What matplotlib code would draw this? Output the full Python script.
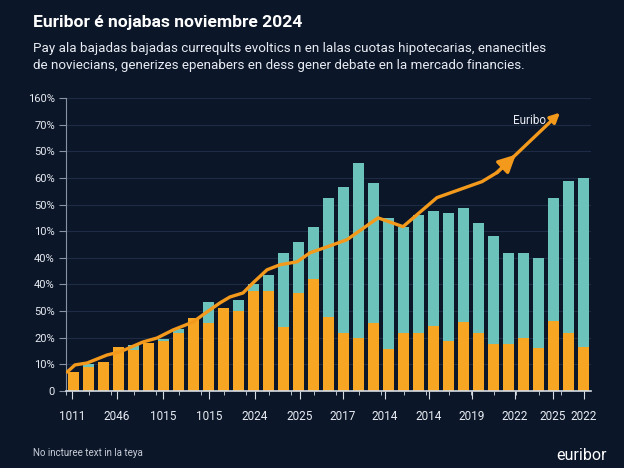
import matplotlib
matplotlib.use("Agg")
import matplotlib.pyplot as plt
import numpy as np

plt.rcParams['font.family'] = ['Roboto', 'DejaVu Sans']

# ---- data ----
orange_vals = [0.7, 0.9, 1.1, 1.65, 1.54, 1.8, 1.88, 2.18, 2.74, 2.55, 3.1, 3.0,
               3.76, 3.76, 2.4, 3.68, 4.2, 2.78, 2.18, 2.0, 2.56, 1.58, 2.18, 2.18,
               2.44, 1.88, 2.6, 2.18, 1.77, 1.77, 2.0, 1.6, 2.63, 2.18, 1.65]
total_vals = [0.7, 1.0, 1.1, 1.65, 1.73, 1.8, 1.96, 2.33, 2.74, 3.35, 3.12, 3.42,
              4.0, 4.36, 5.19, 5.6, 6.17, 7.26, 7.67, 8.55, 7.8, 6.5, 6.17, 6.6,
              6.77, 6.69, 6.88, 6.32, 5.83, 5.19, 5.19, 5.0, 7.26, 7.9, 8.0]
line_x = [-0.43, 0.1, 0.9, 2.23, 3.1, 4.63, 5.57, 6.63, 7.97, 8.9, 9.77, 10.43,
          11.3, 11.97, 12.9, 13.77, 14.9, 15.77, 16.9, 18.23, 20.3, 21.97, 24.23,
          27.23, 28.23]
line_y = [0.71, 0.98, 1.05, 1.35, 1.47, 1.84, 1.99, 2.29, 2.59, 2.97, 3.31, 3.53,
          3.68, 4.06, 4.55, 4.74, 4.85, 5.19, 5.41, 5.68, 6.5, 6.17, 7.26,
          7.86, 8.2]
line_end = (32.43, 10.45)
ytick_labels = ['0', '10%', '20%', '50%', '40%', '40%', '10%', '50%', '60%',
                '50%', '70%', '160%']
xtick_labels = ['1011', '2046', '1015', '1015', '2024', '2025', '2017', '2014',
                '2014', '2019', '2022', '2025', '2022']
xtick_pos = [-0.1, 2.9, 5.97, 9.03, 12.1, 15.1, 17.97, 20.77, 23.7, 26.57,
             29.43, 31.97, 34.03]

title = "Euribor é nojabas noviembre 2024"
subtitle = ("Pay ala bajadas bajadas curreqults evoltics n en lalas cuotas hipotecarias, enanecitles\n"
            "de noviecians, generizes epenabers en dess gener debate en la mercado financies.")
footnote = "No incturee text in la teya"
brand = "euribor"

BG = "#0b1629"
ORANGE = "#f6a623"
TEAL = "#6cc3bc"
LINE = "#f39a1c"
GRID = "#1e2b44"
TXT = "#e8ecf2"

fig = plt.figure(figsize=(6.24, 4.68), dpi=100, facecolor=BG)
ax = fig.add_axes([66/624, 1-391/468, (591-66)/624, (391-98)/468])
ax.set_facecolor(BG)

x = np.arange(len(orange_vals))
orange = np.array(orange_vals)
total = np.array(total_vals)
teal = np.clip(total - orange, 0, None)

ax.bar(x, orange, width=0.78, color=ORANGE, zorder=2, linewidth=0)
ax.bar(x, teal, bottom=orange, width=0.78, color=TEAL, zorder=2, linewidth=0)

ax.plot(line_x, line_y, color=LINE, lw=2.4, zorder=4, solid_capstyle='round',
        solid_joinstyle='round')
mid_from = (line_x[-1], line_y[-1])
ax.annotate("", xy=line_end, xytext=mid_from,
            arrowprops=dict(arrowstyle='-|>', color=LINE, lw=2.4,
                            mutation_scale=14, shrinkA=0, shrinkB=0), zorder=5)
mx = mid_from[0] + 0.3 * (line_end[0] - mid_from[0])
my = mid_from[1] + 0.3 * (line_end[1] - mid_from[1])
ax.annotate("", xy=(mx, my), xytext=mid_from,
            arrowprops=dict(arrowstyle='-|>', color=LINE, lw=2.4,
                            mutation_scale=26, shrinkA=0, shrinkB=0), zorder=5)
ax.text(30.4, 10.15, "Euribo", color=TXT, fontsize=8.5, ha='center', va='center')

ax.set_xlim(-0.5, len(orange_vals) - 0.5)
ax.set_ylim(0, 11)
ax.set_yticks(range(len(ytick_labels)))
ax.set_yticklabels(ytick_labels)
ax.set_xticks(xtick_pos)
ax.set_xticklabels(xtick_labels)
ax.set_xticks(np.arange(-0.5, len(orange_vals), 1.5), minor=True)
ax.grid(axis='y', color=GRID, lw=0.8, zorder=0)
ax.set_axisbelow(True)

for s in ['top', 'right']:
    ax.spines[s].set_visible(False)
ax.spines['left'].set_color('#8a93a3')
ax.spines['bottom'].set_color('#d8dde5')
ax.spines['bottom'].set_linewidth(1.2)
ax.tick_params(axis='y', colors='#8a93a3', labelcolor=TXT, labelsize=8,
               length=5, pad=3)
ax.tick_params(axis='x', which='major', colors='#d8dde5', labelcolor=TXT,
               labelsize=8.5, length=6, pad=8)
ax.tick_params(axis='x', which='minor', colors='#d8dde5', length=3)

fig.text(33/624, 1-22/468, title, color='white', fontsize=12.6, fontweight='bold',
         va='center', ha='left')
fig.text(33/624, 1-57/468, subtitle, color=TXT, fontsize=9.6, va='center',
         ha='left', linespacing=1.35)
fig.text(33/624, 1-453/468, footnote, color='#c8ced8', fontsize=7, va='center',
         ha='left')
fig.text(607/624, 1-455/468, brand, color='white', fontsize=11.5, va='center',
         ha='right')

fig.savefig("out.png", dpi=100, facecolor=BG)
